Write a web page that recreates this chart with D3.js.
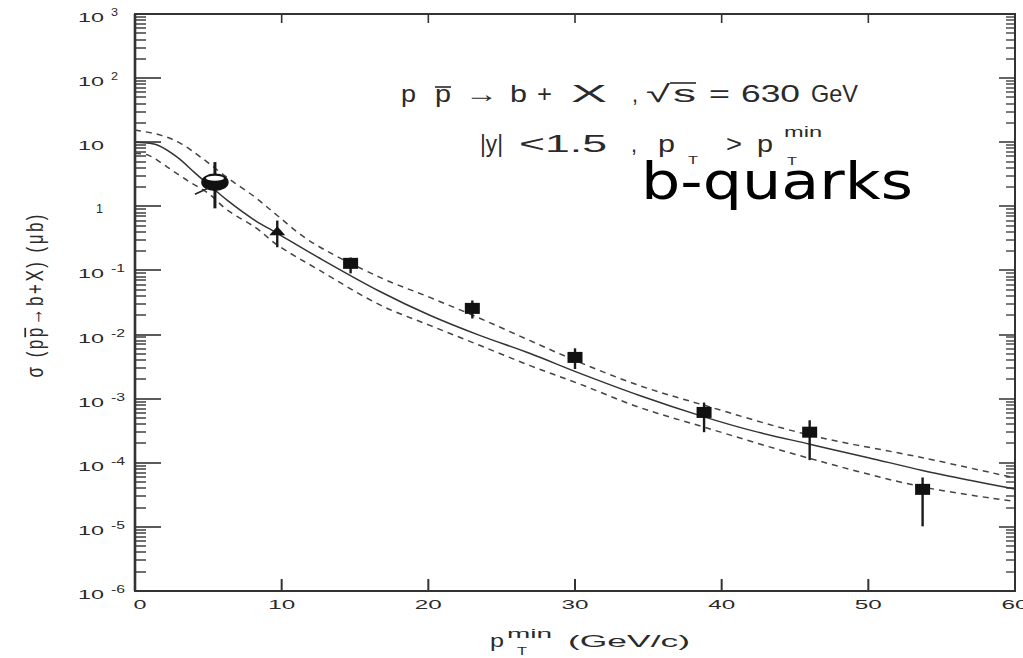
<!DOCTYPE html>
<html>
<head>
<meta charset="utf-8">
<script src="https://cdn.jsdelivr.net/npm/d3@7"></script>
<style>
  html, body { margin: 0; padding: 0; background: #fff; }
  svg { display: block; }
  text { font-family: "Liberation Sans", Arial, sans-serif; fill: #2a2a2a; }
</style>
</head>
<body>
<svg id="chart" width="1023" height="658"></svg>
<script>
// Integrated b-quark cross section sigma(p pbar -> b + X) for pT > pT_min, sqrt(s) = 630 GeV

// Axis ticks
const xTickValues = [0, 10, 20, 30, 40, 50, 60];
const xTickLabels = ["0", "10", "20", "30", "40", "50", "60"];
const yDecades = [3, 2, 1, 0, -1, -2, -3, -4, -5, -6];

// QCD prediction (central curve)
const centralPt    = [0, 1, 1.6, 2.9, 4.1, 5.0, 6.3, 8.2, 9.7, 12.6, 16.7, 20.1, 23.5, 26.9, 30.3, 34.4, 38.8, 42, 46, 50, 53.7, 57, 60];
const centralSigma = [10, 9.6, 8.9, 5.8, 3.3, 2.2, 1.24, 0.6, 0.38, 0.155, 0.047, 0.020, 0.0097, 0.0051, 0.0025, 0.00112, 0.00052, 0.00032, 0.000195, 0.00012, 0.000076, 0.000053, 0.000039];

// Upper edge of the theoretical band
const upperPt    = [0, 1.8, 3.1, 4.5, 6.3, 8.2, 9.7, 11.9, 16.7, 20.1, 23.5, 26.9, 30.3, 34.4, 38.8, 46, 53.7, 60];
const upperSigma = [15.5, 12.8, 9.6, 5.8, 2.8, 1.38, 0.72, 0.29, 0.078, 0.038, 0.018, 0.0081, 0.0037, 0.0016, 0.00079, 0.00027, 0.00012, 0.000058];

// Lower edge of the theoretical band
const lowerPt    = [0, 0.9, 2.2, 3.6, 5.0, 6.3, 8.2, 9.7, 12.6, 16.7, 20.1, 23.5, 26.9, 30.3, 34.4, 38.8, 46, 53.7, 60];
const lowerSigma = [6.7, 6.3, 4.1, 2.5, 1.6, 0.87, 0.47, 0.25, 0.10, 0.029, 0.0139, 0.0068, 0.0033, 0.0017, 0.00073, 0.00036, 0.000117, 0.000042, 0.000025];

// Measurements with error bars
const dataPt    = [5.45, 9.7, 14.7, 23.0, 30.0, 38.8, 46.0, 53.7];
const dataSigma = [2.37, 0.41, 0.129, 0.0256, 0.0044, 0.00061, 0.00030, 0.0000385];
const dataLow   = [0.93, 0.23, 0.090, 0.0178, 0.0029, 0.00030, 0.00011, 0.0000102];
const dataHigh  = [4.9, 0.60, 0.159, 0.034, 0.0061, 0.00087, 0.00046, 0.000059];
const dataShape = ["circle", "triangle", "square", "square", "square", "square", "square", "square"];

const svg = d3.select("#chart");
const plotLeft = 135, plotRight = 1015, plotTop = 14, plotBottom = 591;

const x = d3.scaleLinear().domain([0, 60]).range([plotLeft, plotRight]);
const y = d3.scaleLog().domain([1e-6, 1e3]).range([plotBottom, plotTop]);

const majorTicks = yDecades.map(e => Math.pow(10, e));
const minorTicks = [];
for (let e = -6; e < 3; e++) for (let m = 2; m <= 9; m++) minorTicks.push(m * Math.pow(10, e));
const innerX = xTickValues.slice(1, -1);

// stretched text helper: width fixes the horizontal extent of the glyph run
function label(parent, px, py, str, size, width, anchor) {
  const t = parent.append("text")
    .attr("x", px).attr("y", py)
    .attr("font-size", size)
    .attr("text-anchor", anchor || "start")
    .text(str);
  if (width) t.attr("textLength", width).attr("lengthAdjust", "spacingAndGlyphs");
  return t;
}

// Frame
svg.append("rect")
  .attr("x", plotLeft).attr("y", plotTop)
  .attr("width", plotRight - plotLeft).attr("height", plotBottom - plotTop)
  .attr("fill", "none").attr("stroke", "#333").attr("stroke-width", 2);
svg.append("rect")
  .attr("x", plotLeft - 1.3).attr("y", plotTop)
  .attr("width", 2.6).attr("height", plotBottom - plotTop)
  .attr("fill", "#333");

// Tick marks on the four sides of the frame, as thin filled bars
const tk = svg.append("g");
function hBar(x0, len, ty, w) {
  tk.append("rect")
    .attr("x", Math.min(x0, x0 + len)).attr("y", Math.round(ty) - w / 2)
    .attr("width", Math.abs(len)).attr("height", w)
    .attr("fill", "#333");
}
function vBar(tx, y0, len, w) {
  tk.append("rect")
    .attr("x", tx - w / 2).attr("y", Math.min(y0, y0 + len))
    .attr("width", w).attr("height", Math.abs(len))
    .attr("fill", "#333");
}
majorTicks.forEach(v => {
  hBar(plotLeft, 26, y(v), 1.6);
  hBar(plotRight, -16, y(v), 1.5);
});
minorTicks.forEach(v => {
  hBar(plotLeft, 11, y(v), 1.4);
  hBar(plotRight, -9, y(v), 1.3);
});
innerX.forEach(v => {
  vBar(x(v), plotBottom, -12, 2);
  vBar(x(v), plotTop, 9, 1.6);
});

// Y tick labels: 10^n
const yLab = svg.append("g");
yDecades.forEach(e => {
  const ty = y(Math.pow(10, e));
  if (e === 0) {
    label(yLab, 103, ty + 7, "1", 13, 7, "end");
  } else {
    label(yLab, 104, ty + 8, "10", 13, 26, "end");
    if (e !== 1) {
      const s = String(e);
      label(yLab, 111, ty + 2, s, 10, s.length > 1 ? 14 : 7, "start");
    }
  }
});

// X tick labels
xTickValues.forEach((v, i) => {
  const s = xTickLabels[i];
  label(svg, x(v) + (v === 0 ? 5 : 0), 609, s, 13, s.length > 1 ? 27 : 13, "middle");
});

// X axis title: pT^min (GeV/c)
label(svg, 490, 647, "p", 18, 14);
label(svg, 517, 655, "T", 10, 10);
label(svg, 507, 638, "min", 13, 45);
label(svg, 568, 647, "(GeV/c)", 17, 122);

// Y axis title, rotated
const yTitle = svg.append("g").attr("transform", "translate(43,296) scale(1.45,1) rotate(-90)");
const yt = yTitle.append("text")
  .attr("x", 0).attr("y", 0)
  .attr("font-size", 17)
  .attr("text-anchor", "middle")
  .attr("textLength", 163).attr("lengthAdjust", "spacing")
  .text("σ (pp→b+X)  (μb)");

// Curves
const line = d3.line()
  .x(d => x(d[0])).y(d => y(d[1]))
  .curve(d3.curveCatmullRom.alpha(0.5));
const curves = svg.append("g").attr("fill", "none");
curves.append("path")
  .attr("d", line(d3.zip(centralPt, centralSigma)))
  .attr("stroke", "#333").attr("stroke-width", 1.5);
curves.append("path")
  .attr("d", line(d3.zip(upperPt, upperSigma)))
  .attr("stroke", "#444").attr("stroke-width", 1.5).attr("stroke-dasharray", "6,5");
curves.append("path")
  .attr("d", line(d3.zip(lowerPt, lowerSigma)))
  .attr("stroke", "#444").attr("stroke-width", 1.5).attr("stroke-dasharray", "6,5");

// Data points with error bars
const pts = svg.append("g");
dataPt.forEach((pt, i) => {
  const cx = x(pt), cy = y(dataSigma[i]);
  pts.append("line")
    .attr("x1", cx).attr("x2", cx)
    .attr("y1", y(dataHigh[i])).attr("y2", y(dataLow[i]))
    .attr("stroke", "#1a1a1a").attr("stroke-width", i === 0 ? 3 : 2.4);
  if (dataShape[i] === "circle") {
    pts.append("ellipse").attr("cx", cx).attr("cy", cy).attr("rx", 13).attr("ry", 8)
      .attr("fill", "#111").attr("stroke", "#111").attr("stroke-width", 1.5);
    pts.append("ellipse").attr("cx", cx).attr("cy", cy - 4).attr("rx", 9).attr("ry", 2.5)
      .attr("fill", "#fff");
    pts.append("line")
      .attr("x1", cx - 20).attr("y1", cy + 12).attr("x2", cx - 7).attr("y2", cy + 6)
      .attr("stroke", "#222").attr("stroke-width", 1.6);
  } else if (dataShape[i] === "triangle") {
    pts.append("path")
      .attr("d", `M${cx - 8},${cy + 4}L${cx + 8},${cy + 4}L${cx},${cy - 5}Z`)
      .attr("fill", "#111");
  } else {
    pts.append("rect")
      .attr("x", cx - 7.5).attr("y", cy - 5.5)
      .attr("width", 15).attr("height", 11)
      .attr("fill", "#111");
  }
});

// Process annotation
const ann = svg.append("g");
label(ann, 401, 102, "p", 24, 15);
const pbar = label(ann, 435, 102, "p", 24, 16);
label(ann, 465, 102, "→", 24, 33);
label(ann, 510, 102, "b", 24, 17);
label(ann, 537, 102, "+", 24, 15);
label(ann, 571, 102, "X", 24, 36);
label(ann, 632, 102, ",", 24, 6);
label(ann, 646, 102, "√", 24, 24);
const sqs = label(ann, 673, 102, "s", 24, 23);
label(ann, 709, 102, "=", 24, 21);
label(ann, 741, 102, "630", 24, 59);
label(ann, 811, 102, "GeV", 24, 47);

label(ann, 480, 152, "|y|", 23, 23);
label(ann, 519, 152, "<1.5", 23, 88);
label(ann, 631, 152, ",", 23, 6);
label(ann, 658, 152, "p", 23, 17);
label(ann, 688, 164, "T", 11, 10);
label(ann, 726, 152, ">", 23, 16);
label(ann, 757, 152, "p", 23, 16);
label(ann, 787, 165, "T", 11, 10);
label(ann, 784, 137, "min", 15, 38);

// Bars over the antiproton and under the root sign
const pb = pbar.node().getBBox();
ann.append("line").attr("x1", pb.x).attr("x2", pb.x + pb.width)
  .attr("y1", 87).attr("y2", 87).attr("stroke", "#2a2a2a").attr("stroke-width", 1.6);
const sb = sqs.node().getBBox();
ann.append("line").attr("x1", sb.x - 3).attr("x2", sb.x + sb.width)
  .attr("y1", 83).attr("y2", 83).attr("stroke", "#2a2a2a").attr("stroke-width", 1.6);

// Bar over the antiproton in the axis title
const ex = yt.node().getExtentOfChar(4);
yTitle.append("line")
  .attr("x1", ex.x).attr("x2", ex.x + ex.width)
  .attr("y1", ex.y + 3).attr("y2", ex.y + 3)
  .attr("stroke", "#2a2a2a").attr("stroke-width", 1.2);

// Large caption
svg.append("text")
  .attr("x", 641).attr("y", 199)
  .attr("font-size", 51)
  .attr("textLength", 272).attr("lengthAdjust", "spacingAndGlyphs")
  .style("font-family", "'DejaVu Sans', sans-serif")
  .style("fill", "#000")
  .text("b-quarks");
</script>
</body>
</html>
